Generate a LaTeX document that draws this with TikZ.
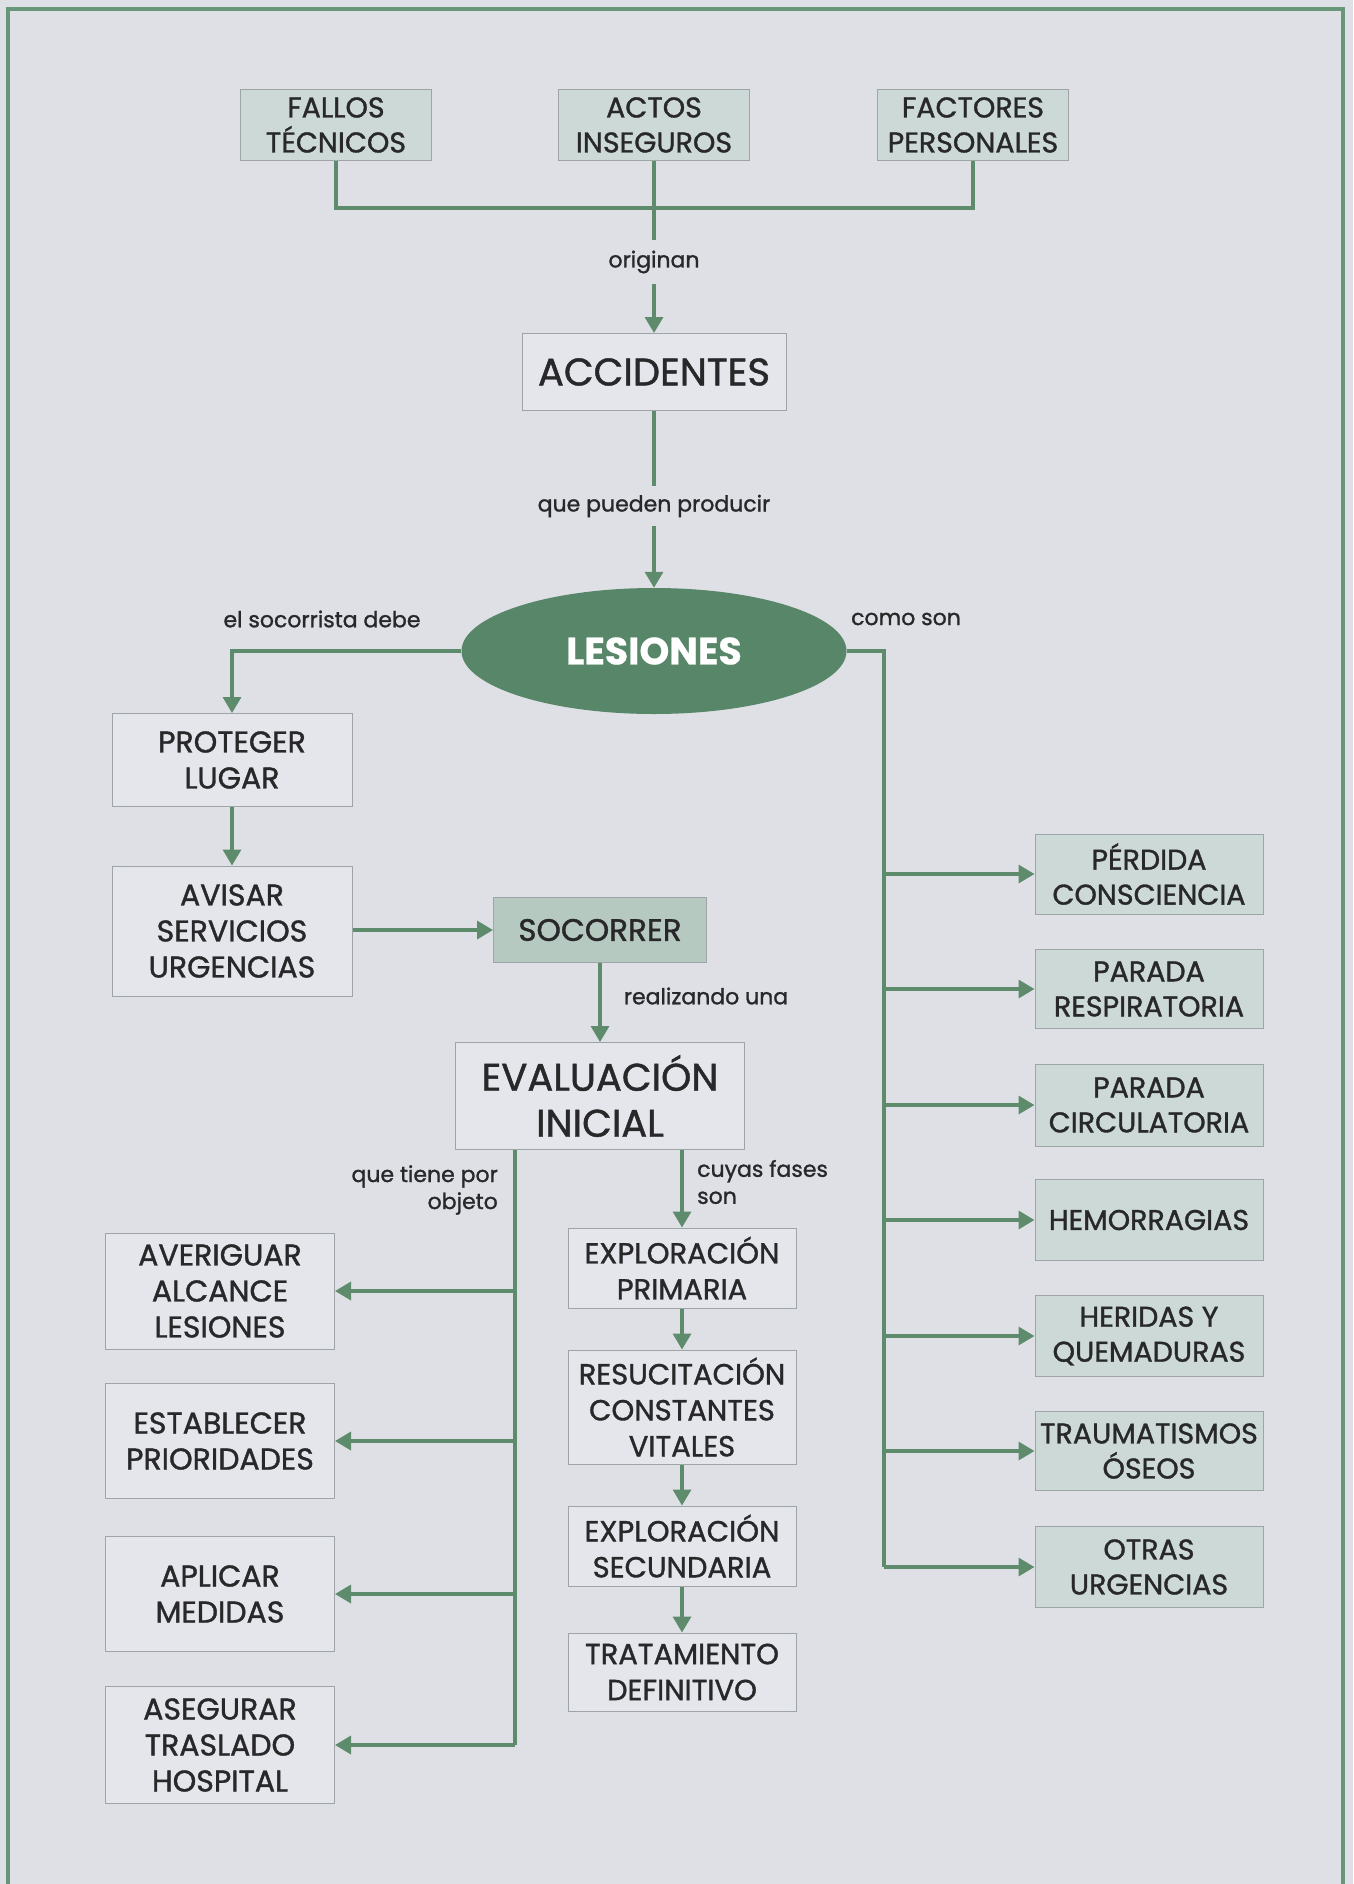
\documentclass[tikz,border=0pt]{standalone}
\usepackage{fontspec}
\setmainfont{Poppins}[FakeBold=1.2]
\newfontfamily\headfont{Poppins}[FakeBold=0.6]
\usetikzlibrary{shapes.geometric,arrows.meta}

\definecolor{paper}{RGB}{222,224,230}
\definecolor{framec}{RGB}{104,150,120}
\definecolor{lineg}{RGB}{94,139,108}
\definecolor{ellg}{RGB}{88,134,104}
\definecolor{boxplain}{RGB}{228,230,235}
\definecolor{boxtint}{RGB}{205,217,214}
\definecolor{boxsoc}{RGB}{182,201,193}
\definecolor{boxedge}{RGB}{158,165,166}
\definecolor{ink}{RGB}{40,40,42}

\begin{document}
\begin{tikzpicture}[x=1pt,y=-1pt,
  link/.style={draw=lineg, line width=3.4pt},
  arr/.style={link, -{Triangle[length=16pt,width=18pt]}},
  basebox/.style={rectangle, draw=boxedge, line width=1pt, inner sep=0pt,
    align=center, text=ink, font=\fontsize{29}{36}\selectfont},
  plainbox/.style={basebox, fill=boxplain},
  leftbox/.style={plainbox, font=\fontsize{30}{36}\selectfont},
  tintbox/.style={basebox, fill=boxtint, font=\fontsize{28.5}{35}\selectfont},
  bigbox/.style={plainbox, font=\fontsize{38.5}{46}\selectfont},
  lbl/.style={text=ink, font=\fontsize{22}{27}\selectfont, inner sep=0pt, align=center},
]
% page and frame
\fill[paper] (0,0) rectangle (1353,1884);
\useasboundingbox (0,0) rectangle (1353,1884);
\draw[framec, line width=4pt] (8,1900) -- (8,9) -- (1343,9) -- (1343,1900);

% causes
\node[tintbox, minimum width=191, minimum height=71] (fallos)   at (336,125) {FALLOS\\TÉCNICOS};
\node[tintbox, minimum width=191, minimum height=71] (actos)    at (654,125) {ACTOS\\INSEGUROS};
\node[tintbox, minimum width=191, minimum height=71] (factores) at (973,125) {FACTORES\\PERSONALES};
\coordinate (jtop) at (654,208);

\node[lbl, minimum height=44] (originan) at (654,262) {originan};
\node[bigbox, minimum width=264, minimum height=77] (accidentes) at (654,372) {ACCIDENTES};
\node[lbl, minimum height=40] (pueden) at (654,506) {que pueden producir};

\node[ellipse, fill=ellg, inner sep=0pt, minimum width=385, minimum height=126,
  text=white, font=\headfont\fontsize{38}{42}\selectfont\bfseries] (lesiones) at (654,651) {LESIONES};
\node[lbl] (socorrista) at (322,619) {el socorrista debe};
\node[lbl] (comoson) at (906,619) {como son};

% first aid steps
\node[leftbox, minimum width=240, minimum height=93]  (proteger) at (232,760) {PROTEGER\\LUGAR};
\node[leftbox, minimum width=240, minimum height=130] (avisar)   at (232,931) {AVISAR\\SERVICIOS\\URGENCIAS};
\node[basebox, fill=boxsoc, font=\fontsize{31}{36}\selectfont, minimum width=213, minimum height=65] (socorrer) at (600,930) {SOCORRER};
\node[lbl] (realizando) at (706,996) {realizando una};
\node[bigbox, minimum width=289, minimum height=107] (evaluacion) at (600,1096) {EVALUACIÓN\\INICIAL};
\node[lbl, anchor=east, align=right] (objeto) at (498,1190) {que tiene por\\objeto};
\node[lbl, anchor=west, align=left] (fases) at (697,1182) {cuyas fases\\son};

% aims of the evaluation
\node[leftbox, minimum width=229, minimum height=116] (averiguar)  at (220,1291) {AVERIGUAR\\ALCANCE\\LESIONES};
\node[leftbox, minimum width=229, minimum height=115] (establecer) at (220,1441) {ESTABLECER\\PRIORIDADES};
\node[leftbox, minimum width=229, minimum height=115] (aplicar)    at (220,1594) {APLICAR\\MEDIDAS};
\node[leftbox, minimum width=229, minimum height=117] (asegurar)   at (220,1745) {ASEGURAR\\TRASLADO\\HOSPITAL};
\coordinate (lend) at (515,1745);

% phases of the evaluation
\node[plainbox, minimum width=228, minimum height=80]  (primaria)     at (682,1268) {EXPLORACIÓN\\PRIMARIA};
\node[plainbox, minimum width=228, minimum height=114] (resucitacion) at (682,1407) {RESUCITACIÓN\\CONSTANTES\\VITALES};
\node[plainbox, minimum width=228, minimum height=80]  (secundaria)   at (682,1546) {EXPLORACIÓN\\SECUNDARIA};
\node[plainbox, minimum width=228, minimum height=78]  (tratamiento)  at (682,1672) {TRATAMIENTO\\DEFINITIVO};

% kinds of injury
\node[tintbox, minimum width=228, minimum height=80] (perdida)      at (1149,874)  {PÉRDIDA\\CONSCIENCIA};
\node[tintbox, minimum width=228, minimum height=79] (respiratoria) at (1149,989)  {PARADA\\RESPIRATORIA};
\node[tintbox, minimum width=228, minimum height=82] (circulatoria) at (1149,1105) {PARADA\\CIRCULATORIA};
\node[tintbox, minimum width=228, minimum height=81] (hemorragias)  at (1149,1220) {HEMORRAGIAS};
\node[tintbox, minimum width=228, minimum height=81] (heridas)      at (1149,1336) {HERIDAS Y\\QUEMADURAS};
\node[tintbox, minimum width=228, minimum height=79] (traumatismos) at (1149,1451) {TRAUMATISMOS\\ÓSEOS};
\node[tintbox, minimum width=228, minimum height=81] (otras)        at (1149,1567) {OTRAS\\URGENCIAS};
\coordinate (rend) at (884,1567);

% connectors
\draw[link] (fallos.south) |- (jtop) -| (factores.south);
\draw[link] (actos.south) -- (originan.north);
\draw[arr] (originan.south) -- (accidentes.north);
\draw[link] (accidentes.south) -- (pueden.north);
\draw[arr] (pueden.south) -- (lesiones.north);

\draw[arr] (lesiones.west) -| (proteger.north);
\draw[arr] (proteger.south) -- (avisar.north);
\draw[arr] (avisar.east |- socorrer.west) -- (socorrer.west);
\draw[arr] (socorrer.south) -- (evaluacion.north);

\draw[link] (evaluacion.south -| lend) -- (lend);
\foreach \b in {averiguar,establecer,aplicar,asegurar}
  \draw[arr] (lend |- \b.east) -- (\b.east);

\draw[arr] (evaluacion.south -| primaria.north) -- (primaria.north);
\draw[arr] (primaria.south) -- (resucitacion.north);
\draw[arr] (resucitacion.south) -- (secundaria.north);
\draw[arr] (secundaria.south) -- (tratamiento.north);

\draw[link] (lesiones.east) -| (rend);
\foreach \b in {perdida,respiratoria,circulatoria,hemorragias,heridas,traumatismos,otras}
  \draw[arr] (rend |- \b.west) -- (\b.west);
\end{tikzpicture}
\end{document}
